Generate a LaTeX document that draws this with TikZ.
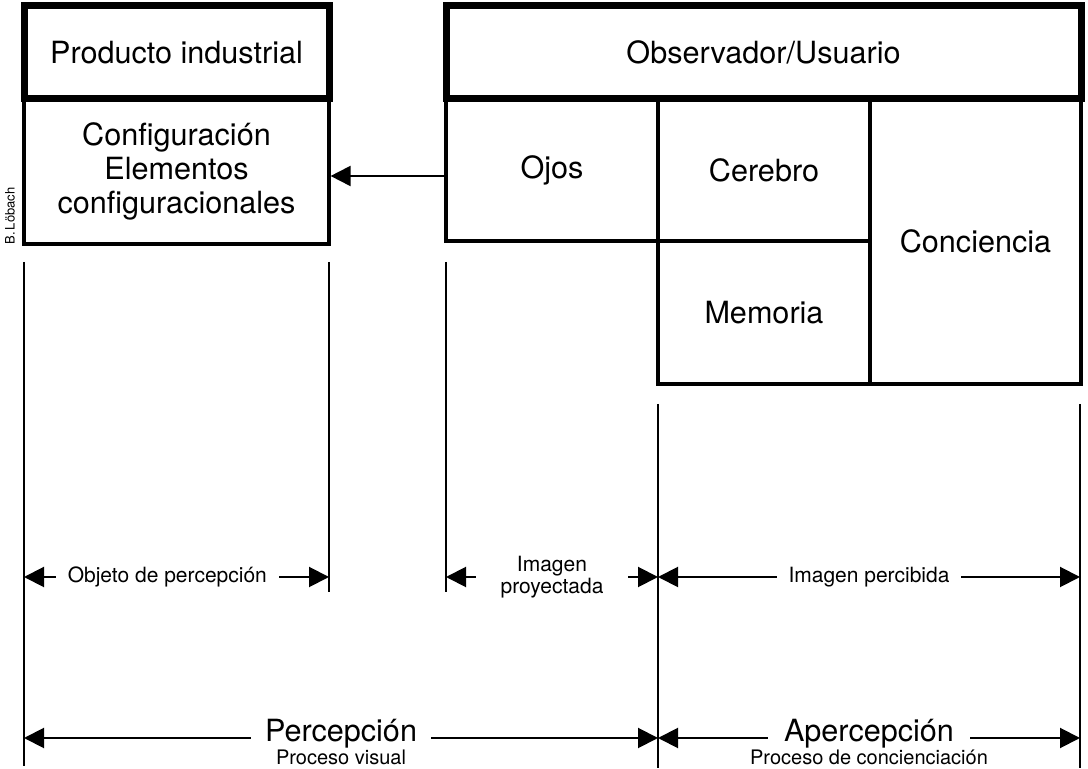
\documentclass[tikz,border=0pt]{standalone}
\usepackage{fontspec}
\setmainfont{TeX Gyre Heros}
\usetikzlibrary{arrows.meta,positioning}
\tikzset{
  box/.style={draw,rectangle,line width=1.6pt,align=center,font=\fontsize{15.3}{17}\selectfont},
  headbox/.style={box,line width=3.5pt},
  guide/.style={line width=1.4pt},
  dim/.style={<->,line width=1pt},
  lbl/.style={fill=white,inner xsep=6pt,align=center,font=\fontsize{10.5}{11}\selectfont},
  biglbl/.style={lbl,inner xsep=7pt,inner ysep=1pt,yshift=2pt,font=\fontsize{15.3}{16}\selectfont},
  sublbl/.style={inner sep=0pt,anchor=base,font=\fontsize{10}{12}\selectfont}
}

\begin{document}
\begin{tikzpicture}[x=0.5pt,y=-0.5pt,>={Triangle[length=10pt,width=10pt]}]
\useasboundingbox (0,0) rectangle (1088,769);
\node[box,minimum width=152.5pt,minimum height=72.5pt] (CONF) at (176.5,171.5) {Configuración\\Elementos\\configuracionales};
\node[headbox,minimum width=152.5pt,minimum height=46.5pt] (PROD) at (176.5,52.5) {Producto industrial};
\node[box,minimum width=106pt,minimum height=71pt] (OJOS) at (552,170) {Ojos};
\node[box,minimum width=106pt,minimum height=71pt] (CER) at (764,170) {Cerebro};
\node[box,minimum width=106pt,minimum height=71.5pt] (MEM) at (764,312.5) {Memoria};
\node[box,minimum width=105.5pt,minimum height=142.5pt] (CONC) at (975.5,241.5) {Conciencia};
\node[headbox,minimum width=317.5pt,minimum height=46.5pt] (OBS) at (763.5,52.5) {Observador/Usuario};
\node[rotate=90,inner sep=0pt,font=\fontsize{6.5}{7}\selectfont] (AUT) at (10,216) {B.\,Löbach};
\draw[->,line width=1pt] ([yshift=-3pt]OJOS.west) -- ([yshift=-3pt]OJOS.west -| CONF.east);
\coordinate (G1T) at (24,262);
\coordinate (G1B) at (24,766);
\coordinate (G2T) at (329,262);
\coordinate (G2B) at (329,592);
\coordinate (G3T) at (446,262);
\coordinate (G3B) at (446,592);
\coordinate (G4T) at (658,404);
\coordinate (G4B) at (658,768);
\coordinate (G5T) at (1080,404);
\coordinate (G5B) at (1080,768);
\coordinate (R1) at (0,577);
\coordinate (R2) at (0,738);
\draw[guide] (G1T) -- (G1B);
\draw[guide] (G2T) -- (G2B);
\draw[guide] (G3T) -- (G3B);
\draw[guide] (G4T) -- (G4B);
\draw[guide] (G5T) -- (G5B);
\draw[dim] (G1T |- R1) -- node[lbl,pos=0.47] (OBJ) {Objeto de percepción} (G2T |- R1);
\draw[dim] (G3T |- R1) -- node[lbl,inner xsep=12.5pt] (PROY) {Imagen\\proyectada} (G4T |- R1);
\draw[dim] (G4T |- R1) -- node[lbl] (PERCIB) {Imagen percibida} (G5T |- R1);
\draw[dim] (G1T |- R2) -- node[biglbl] (PERC) {Percepción} (G4T |- R2);
\node[sublbl] (VIS) at ([yshift=-11.5pt]PERC.base) {Proceso visual};
\draw[dim] (G4T |- R2) -- node[biglbl,inner xsep=8pt] (APERC) {Apercepción} (G5T |- R2);
\node[sublbl] (CONCI) at ([yshift=-11.5pt]APERC.base) {Proceso de concienciación};
\end{tikzpicture}
\end{document}
